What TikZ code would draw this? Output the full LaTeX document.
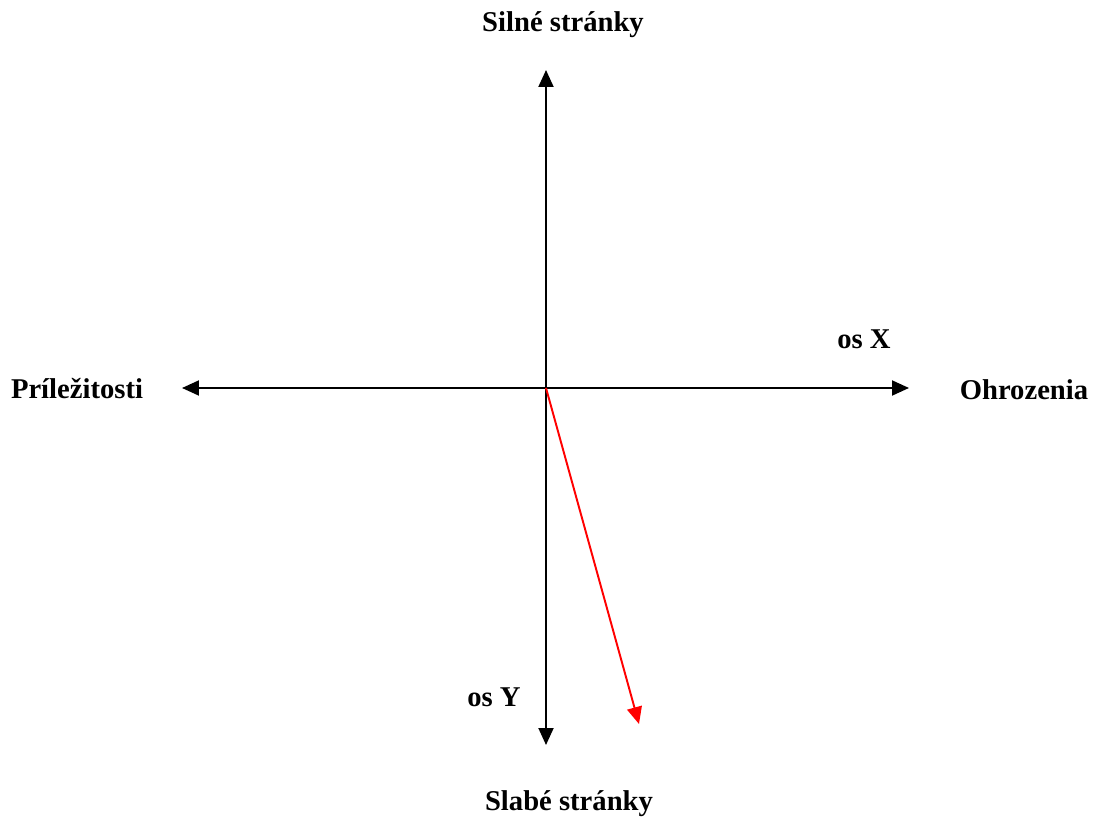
\documentclass[tikz,border=0pt]{standalone}
\usepackage{fontspec}
\setmainfont{Liberation Serif}
\usetikzlibrary{arrows.meta}

\begin{document}
\begin{tikzpicture}[x=0.02cm, y=-0.02cm,
  every node/.style={font=\fontsize{16.3}{19.5}\selectfont\bfseries, anchor=base, inner sep=0pt},
  axis/.style={line width=1.1pt, {Triangle[length=3.4mm,width=3mm]}-{Triangle[length=3.4mm,width=3mm]}},
  vec/.style={red, line width=1.1pt, -{Triangle[length=3.4mm,width=3mm]}}]
  \useasboundingbox (0,0) rectangle (1096,817);
  \coordinate (o) at (546,388);
  \coordinate (top) at (546,70);
  \coordinate (bottom) at (546,745);
  \coordinate (left) at (182,388);
  \coordinate (right) at (909,388);
  \coordinate (tip) at (639,724);
  \draw[axis] (left) -- (right);
  \draw[axis] (bottom) -- (top);
  \draw[vec] (o) -- (tip);
  \node (silne) at (563,32) {Silné stránky};
  \node (slabe) at (569,810) {Slabé stránky};
  \node (prilez) at (77,399) {Príležitosti};
  \node (ohroz) at (1024,400) {Ohrozenia};
  \node (osx) at (864,349) {os X};
  \node (osy) at (494,706) {os Y};
\end{tikzpicture}
\end{document}
